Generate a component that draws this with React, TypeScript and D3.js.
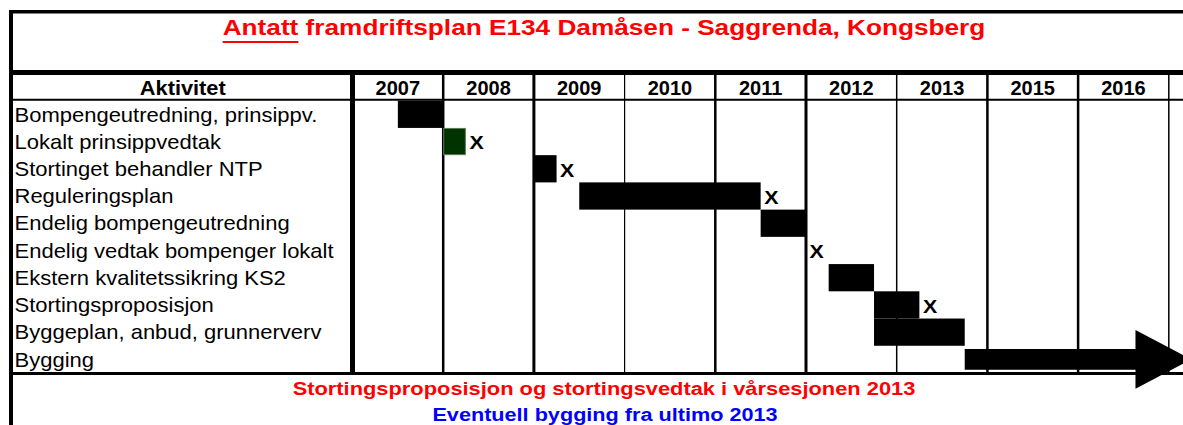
import * as d3 from 'd3';
import React, { useRef, useEffect } from 'react';

const activities = [
  'Bompengeutredning, prinsippv.',
  'Lokalt prinsippvedtak',
  'Stortinget behandler NTP',
  'Reguleringsplan',
  'Endelig bompengeutredning',
  'Endelig vedtak bompenger lokalt',
  'Ekstern kvalitetssikring KS2',
  'Stortingsproposisjon',
  'Byggeplan, anbud, grunnerverv',
  'Bygging',
];
const years = ['2007', '2008', '2009', '2010', '2011', '2012', '2013', '2015', '2016'];

// start / end of each activity in column units (0 = left edge of the 2007 column)
const barStart = [0.5, 1, 2, 2.5, 4.5, null, 5.25, 5.75, 5.75, 6.75];
const barEnd = [1, 1.25, 2.25, 4.5, 5, null, 5.75, 6.25, 6.75, 9.25];
const milestones = [null, 1.25, 2.25, 4.5, null, 5, null, 6.25, null, null];
const barKind = ['bar', 'green', 'bar', 'bar', 'bar', 'none', 'bar', 'bar', 'bar', 'arrow'];

const title = 'Antatt framdriftsplan E134 Damåsen - Saggrenda, Kongsberg';
const underlined = 'Antatt';
const note1 = 'Stortingsproposisjon og stortingsvedtak i vårsesjonen 2013';
const note2 = 'Eventuell bygging fra ultimo 2013';

const FONT = '"Liberation Sans", Arial, Helvetica, sans-serif';

function GanttChart() {
  const ref = useRef<SVGSVGElement>(null);

  useEffect(() => {
    const width = 1183;
    const height = 425;
    const left = 11;
    const colLeft = 352.5;
    const colW = 90.7;
    const headTop = 72.5;
    const headBottom = 99.7;
    const bodyBottom = 373.4;

    const svg = d3.select(ref.current);
    svg.selectAll('*').remove();
    svg.attr('width', width).attr('height', height).attr('viewBox', `0 0 ${width} ${height}`);

    svg.append('rect').attr('width', width).attr('height', height).attr('fill', '#fff');

    const x = d3.scaleLinear().domain([0, years.length]).range([colLeft, colLeft + years.length * colW]);
    const y = d3.scaleBand<string>().domain(activities).range([headBottom + 1, bodyBottom - 0.4]);

    // title
    const tg = svg.append('g').attr('transform', `translate(604,35) scale(1.165,1)`);
    const tt = tg.append('text')
      .attr('text-anchor', 'middle')
      .attr('font-family', FONT)
      .attr('font-weight', 'bold')
      .attr('font-size', 22.5)
      .attr('fill', '#ff0000')
      .text(title);
    const tnode = tt.node() as SVGTextElement;
    const bb = tnode.getBBox();
    const ulen = tnode.getSubStringLength(0, underlined.length);
    tg.append('line')
      .attr('x1', bb.x).attr('x2', bb.x + ulen)
      .attr('y1', 7).attr('y2', 7)
      .attr('stroke', '#ff0000').attr('stroke-width', 2);

    // grid
    const grid = svg.append('g');
    const colLineWidth = [2.5, 3, 1.2, 2.5, 3, 1.5, 2.5, 2.5, 1.5];
    d3.range(1, years.length + 1).forEach((i) => {
      grid.append('line')
        .attr('x1', x(i)).attr('x2', x(i))
        .attr('y1', headTop).attr('y2', bodyBottom)
        .attr('stroke', '#000').attr('stroke-width', colLineWidth[i - 1]);
    });
    grid.append('line')
      .attr('x1', left).attr('x2', width).attr('y1', headBottom).attr('y2', headBottom)
      .attr('stroke', '#000').attr('stroke-width', 2);

    // header labels
    const head = svg.append('g')
      .attr('font-family', FONT).attr('font-weight', 'bold').attr('font-size', 20).attr('fill', '#000');
    head.append('text')
      .attr('text-anchor', 'middle')
      .attr('transform', `translate(${(left + colLeft) / 2 + 1},95) scale(1.09,1)`)
      .text('Aktivitet');
    head.selectAll('text.year')
      .data(years)
      .enter()
      .append('text')
      .attr('class', 'year')
      .attr('text-anchor', 'middle')
      .attr('x', (d, i) => x(i + 0.5))
      .attr('y', 95)
      .text((d) => d);

    // activity labels
    svg.append('g')
      .attr('transform', 'translate(14.5,0) scale(1.1,1)')
      .selectAll('text')
      .data(activities)
      .enter()
      .append('text')
      .attr('x', 0)
      .attr('y', (d) => (y(d) || 0) + y.bandwidth() / 2)
      .attr('dy', '0.36em')
      .attr('font-family', FONT)
      .attr('font-size', 20)
      .attr('fill', '#000')
      .text((d) => d);

    // bars
    const bars = svg.append('g');
    activities.forEach((a, i) => {
      const s = barStart[i];
      const e = barEnd[i];
      if (s === null || e === null) return;
      const top = y(a) || 0;
      const h = y.bandwidth();
      if (barKind[i] === 'arrow') {
        const cy = top + h / 2;
        const tip = x(e);
        const base = tip - 56;
        const shaft = 10.3;
        const headH = 29.3;
        const p = d3.path();
        p.moveTo(x(s), cy - shaft);
        p.lineTo(base, cy - shaft);
        p.lineTo(base, cy - headH);
        p.lineTo(tip, cy);
        p.lineTo(base, cy + headH);
        p.lineTo(base, cy + shaft);
        p.lineTo(x(s), cy + shaft);
        p.closePath();
        bars.append('path').attr('d', p.toString()).attr('fill', '#000');
      } else if (barKind[i] === 'green') {
        bars.append('rect')
          .attr('x', x(s) + 0.5).attr('y', top + 0.5)
          .attr('width', x(e) - x(s) - 1).attr('height', h - 1)
          .attr('fill', '#003300').attr('stroke', '#5c7a5c').attr('stroke-width', 1);
      } else {
        bars.append('rect')
          .attr('x', x(s)).attr('y', top)
          .attr('width', x(e) - x(s)).attr('height', h)
          .attr('fill', '#000');
      }
    });

    // milestones
    activities.forEach((a, i) => {
      const m = milestones[i];
      if (m === null) return;
      const cy = (y(a) || 0) + y.bandwidth() / 2;
      svg.append('text')
        .attr('transform', `translate(${x(m) + 3.5},${cy}) scale(1.15,1)`)
        .attr('dy', '0.42em')
        .attr('font-family', FONT)
        .attr('font-weight', 'bold')
        .attr('font-size', 18.6)
        .attr('fill', '#000')
        .text('X');
    });

    // frame
    const frame = svg.append('g').attr('stroke', '#000');
    frame.append('line').attr('x1', left - 2).attr('x2', width).attr('y1', 11.7).attr('y2', 11.7).attr('stroke-width', 3.5);
    frame.append('line').attr('x1', left).attr('x2', left).attr('y1', 10).attr('y2', height).attr('stroke-width', 4);
    frame.append('line').attr('x1', left).attr('x2', width).attr('y1', headTop).attr('y2', headTop).attr('stroke-width', 5);
    frame.append('line').attr('x1', left).attr('x2', width).attr('y1', bodyBottom).attr('y2', bodyBottom).attr('stroke-width', 3);
    frame.append('line').attr('x1', colLeft).attr('x2', colLeft).attr('y1', headTop).attr('y2', bodyBottom).attr('stroke-width', 5);

    // notes
    svg.append('text')
      .attr('transform', 'translate(604,395) scale(1.15,1)')
      .attr('text-anchor', 'middle')
      .attr('font-family', FONT).attr('font-weight', 'bold').attr('font-size', 19)
      .attr('fill', '#ff0000')
      .text(note1);
    svg.append('text')
      .attr('transform', 'translate(605,420.7) scale(1.14,1)')
      .attr('text-anchor', 'middle')
      .attr('font-family', FONT).attr('font-weight', 'bold').attr('font-size', 19)
      .attr('fill', '#0000ff')
      .text(note2);
  }, []);

  return (
    <svg
      ref={ref}
      style={{ position: 'absolute', left: 0, top: 0, display: 'block', overflow: 'hidden' }}
    />
  );
}

export default function App() {
  return <GanttChart />;
}
